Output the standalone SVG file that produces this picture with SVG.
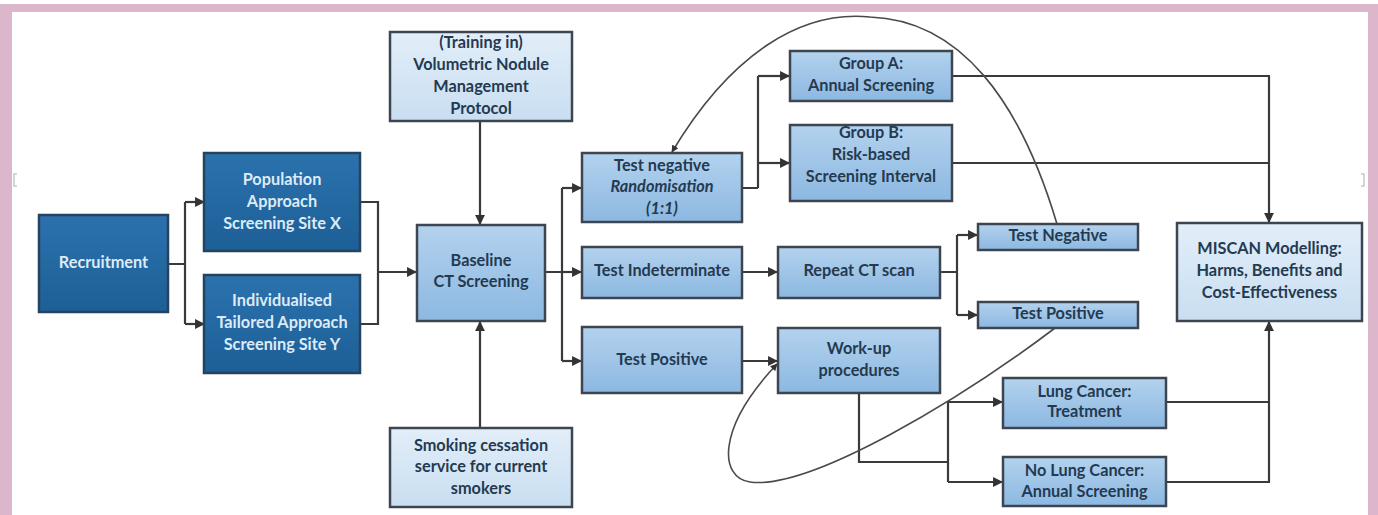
<svg xmlns="http://www.w3.org/2000/svg" width="1378" height="515" viewBox="0 0 1378 515">
<defs>
<linearGradient id="gDark" x1="0" y1="0" x2="0" y2="1"><stop offset="0" stop-color="#2b72ad"/><stop offset="1" stop-color="#1d5f97"/></linearGradient>
<linearGradient id="gMid" x1="0" y1="0" x2="0" y2="1"><stop offset="0" stop-color="#b3d2ee"/><stop offset="1" stop-color="#8cb8e1"/></linearGradient>
<linearGradient id="gLight" x1="0" y1="0" x2="0" y2="1"><stop offset="0" stop-color="#e2eef9"/><stop offset="1" stop-color="#c9def1"/></linearGradient>
<marker id="arr" viewBox="0 0 10 10" refX="9" refY="5" markerWidth="4.5" markerHeight="4.5" orient="auto" markerUnits="strokeWidth"><path d="M0,0 L10,5 L0,10 z" fill="#333"/></marker>
</defs>
<style>
.dark{fill:url(#gDark);stroke:#25435f;stroke-width:2.5}
.mid{fill:url(#gMid);stroke:#3d4650;stroke-width:2.5}
.light{fill:url(#gLight);stroke:#3d4650;stroke-width:2.5}
text{font-family:Lato,"Open Sans","Liberation Sans",sans-serif;font-size:16.3px;font-weight:bold;text-anchor:middle;dominant-baseline:middle}
.wt{fill:#dcebf7}
.dt{fill:#243a50}
.it{font-style:italic}
.ln{fill:none;stroke:#3a3a3a;stroke-width:2.2}
.cv{fill:none;stroke:#4a4a4a;stroke-width:1.6}
</style>
<rect x="0" y="0" width="1378" height="515" fill="#ffffff"/>
<g id="frame" fill="#dcb6ca">
<rect x="0" y="4" width="1378" height="8"/>
<rect x="0" y="4" width="12" height="511"/>
<rect x="1368" y="4" width="10" height="511"/>
</g>
<g id="marks" fill="none" stroke="#c8c8c8" stroke-width="1.5">
<path d="M17,174 h-3 v12 h3"/>
<path d="M1361,174 h3 v12 h-3"/>
</g>
<g id="connectors">
<path class="ln" d="M168,264 H185 M185,202 V324"/>
<path class="ln" d="M185,202 H204" marker-end="url(#arr)"/>
<path class="ln" d="M185,324 H204" marker-end="url(#arr)"/>
<path class="ln" d="M360,202 H378 V324 H360"/>
<path class="ln" d="M378,272 H416" marker-end="url(#arr)"/>
<path class="ln" d="M480,121 V224" marker-end="url(#arr)"/>
<path class="ln" d="M480,428 V322" marker-end="url(#arr)"/>
<path class="ln" d="M545,272 H562 M562,188 V361"/>
<path class="ln" d="M562,188 H581" marker-end="url(#arr)"/>
<path class="ln" d="M562,272 H581" marker-end="url(#arr)"/>
<path class="ln" d="M562,361 H581" marker-end="url(#arr)"/>
<path class="ln" d="M742,188 H758 M758,76 V188"/>
<path class="ln" d="M758,76 H789" marker-end="url(#arr)"/>
<path class="ln" d="M758,163 H789" marker-end="url(#arr)"/>
<path class="ln" d="M742,272 H777" marker-end="url(#arr)"/>
<path class="ln" d="M742,361 H777" marker-end="url(#arr)"/>
<path class="ln" d="M940,272 H957 M957,235 V315"/>
<path class="ln" d="M957,235 H977" marker-end="url(#arr)"/>
<path class="ln" d="M957,315 H977" marker-end="url(#arr)"/>
<path class="ln" d="M859,393 V462 H948 M948,402 V482"/>
<path class="ln" d="M948,402 H1002" marker-end="url(#arr)"/>
<path class="ln" d="M948,482 H1002" marker-end="url(#arr)"/>
<path class="ln" d="M952,76 H1269 V222" marker-end="url(#arr)"/>
<path class="ln" d="M952,163 H1269"/>
<path class="ln" d="M1166,402 H1269 M1166,482 H1269 V322" marker-end="url(#arr)"/>
<path class="cv" d="M1057,224 C1020,100 960,20 870,17 C800,10 730,55 672,152" marker-end="url(#arr)"/>
<path class="cv" d="M1055,328 C960,400 810,490 750,482 C720,478 715,430 777,364" marker-end="url(#arr)"/>
</g>
<g id="recruitment"><rect class="dark" x="39" y="215" width="129" height="97"/><text class="wt" x="103.5" y="264">Recruitment</text></g>
<g id="siteX"><rect class="dark" x="204" y="153" width="156" height="98"/><text class="wt" x="282" y="181">Population</text><text class="wt" x="282" y="203">Approach</text><text class="wt" x="282" y="225">Screening Site X</text></g>
<g id="siteY"><rect class="dark" x="204" y="275" width="156" height="98"/><text class="wt" x="282" y="302">Individualised</text><text class="wt" x="282" y="324">Tailored Approach</text><text class="wt" x="282" y="346">Screening Site Y</text></g>
<g id="training"><rect class="light" x="390" y="32" width="182" height="89"/><text class="dt" x="481" y="44">(Training in)</text><text class="dt" x="481" y="66">Volumetric Nodule</text><text class="dt" x="481" y="88">Management</text><text class="dt" x="481" y="110">Protocol</text></g>
<g id="baseline"><rect class="mid" x="417" y="225" width="128" height="96"/><text class="dt" x="481" y="262">Baseline</text><text class="dt" x="481" y="283">CT Screening</text></g>
<g id="smoking"><rect class="light" x="390" y="428" width="182" height="79"/><text class="dt" x="481" y="447">Smoking cessation</text><text class="dt" x="481" y="468">service for current</text><text class="dt" x="481" y="490">smokers</text></g>
<g id="testNegRand"><rect class="mid" x="582" y="153" width="160" height="69"/><text class="dt" x="662" y="167">Test negative</text><text class="dt it" x="662" y="188">Randomisation</text><text class="dt it" x="662" y="210">(1:1)</text></g>
<g id="testIndet"><rect class="mid" x="582" y="247" width="160" height="51"/><text class="dt" x="662" y="272">Test Indeterminate</text></g>
<g id="testPos"><rect class="mid" x="582" y="327" width="160" height="66"/><text class="dt" x="662" y="361">Test Positive</text></g>
<g id="groupA"><rect class="mid" x="790" y="51" width="162" height="50"/><text class="dt" x="871" y="65">Group A:</text><text class="dt" x="871" y="87">Annual Screening</text></g>
<g id="groupB"><rect class="mid" x="790" y="125" width="162" height="76"/><text class="dt" x="871" y="134">Group B:</text><text class="dt" x="871" y="156">Risk-based</text><text class="dt" x="871" y="178">Screening Interval</text></g>
<g id="repeatCT"><rect class="mid" x="778" y="247" width="162" height="51"/><text class="dt" x="859" y="272">Repeat CT scan</text></g>
<g id="workup"><rect class="mid" x="778" y="328" width="162" height="65"/><text class="dt" x="859" y="350">Work-up</text><text class="dt" x="859" y="372">procedures</text></g>
<g id="testNegSmall"><rect class="mid" x="978" y="224" width="160" height="26"/><text class="dt" x="1058" y="237">Test Negative</text></g>
<g id="testPosSmall"><rect class="mid" x="978" y="302" width="160" height="26"/><text class="dt" x="1058" y="315">Test Positive</text></g>
<g id="lungCancer"><rect class="mid" x="1003" y="378" width="163" height="50"/><text class="dt" x="1084.5" y="393">Lung Cancer:</text><text class="dt" x="1084.5" y="413">Treatment</text></g>
<g id="noLungCancer"><rect class="mid" x="1003" y="457" width="163" height="49"/><text class="dt" x="1084.5" y="472">No Lung Cancer:</text><text class="dt" x="1084.5" y="493">Annual Screening</text></g>
<g id="miscan"><rect class="light" x="1177" y="223" width="185" height="98"/><text class="dt" x="1269.5" y="250">MISCAN Modelling:</text><text class="dt" x="1269.5" y="272">Harms, Benefits and</text><text class="dt" x="1269.5" y="294">Cost-Effectiveness</text></g>
</svg>
